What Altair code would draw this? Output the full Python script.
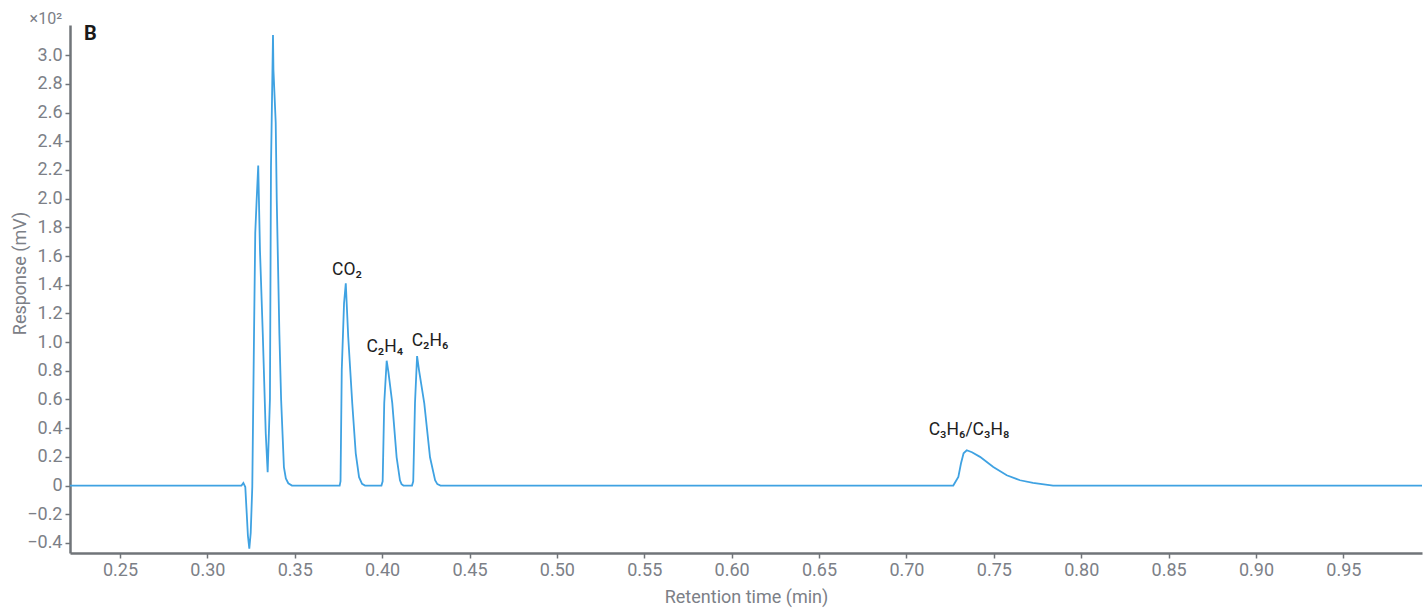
import altair as alt
import pandas as pd

# Chromatogram trace: retention time (min) and detector response (x10^2 mV)
time_min = [
    0.2214, 0.3195, 0.3206, 0.3217, 0.3225, 0.3232, 0.3240, 0.3248, 0.3257,
    0.3267, 0.3274, 0.3282, 0.3291, 0.3301, 0.3317, 0.3334, 0.3345,
    0.3358, 0.3364, 0.33755, 0.3378, 0.3391, 0.3397, 0.3412, 0.3422, 0.3438,
    0.3449, 0.3463, 0.3484,
    0.3757, 0.3762, 0.3769, 0.3782, 0.3792, 0.3806, 0.3829, 0.3849, 0.3868,
    0.3885, 0.3902,
    0.3996, 0.4003, 0.4012, 0.4026, 0.4036, 0.4058, 0.4083, 0.4102, 0.4111,
    0.4122,
    0.4171, 0.4178, 0.4188, 0.4200, 0.4211, 0.4241, 0.4274, 0.4303, 0.4316,
    0.4334,
    0.7268, 0.7297, 0.7312, 0.7327, 0.7345, 0.7375, 0.7421, 0.7497, 0.7574,
    0.7650, 0.7724, 0.7839, 0.995,
]
response = [
    0.0, 0.0, 0.018, -0.01, -0.19, -0.35, -0.44, -0.33, -0.01,
    1.06, 1.76, 1.99, 2.23, 1.64, 1.06, 0.365, 0.093,
    0.60, 2.22, 3.14, 2.90, 2.53, 1.99, 1.06, 0.60, 0.128,
    0.05, 0.016, 0.0,
    0.0, 0.03, 0.805, 1.27, 1.41, 1.035, 0.574, 0.225, 0.058,
    0.012, 0.0,
    0.0, 0.03, 0.574, 0.87, 0.79, 0.574, 0.197, 0.037, 0.01,
    0.0,
    0.0, 0.03, 0.574, 0.902, 0.805, 0.574, 0.197, 0.037, 0.01,
    0.0,
    0.0, 0.06, 0.154, 0.225, 0.246, 0.232, 0.20, 0.13, 0.072,
    0.037, 0.018, 0.0, 0.0,
]

# Peak annotations
peak_names = ["CO₂", "C₂H₄", "C₂H₆", "C₃H₆/C₃H₈"]
peak_label_time = [0.3799, 0.4015, 0.4274, 0.7358]
peak_label_resp = [1.467, 0.932, 0.972, 0.351]

x_ticks = [0.25, 0.30, 0.35, 0.40, 0.45, 0.50, 0.55, 0.60, 0.65, 0.70,
           0.75, 0.80, 0.85, 0.90, 0.95]
y_ticks = [-0.4, -0.2, 0.0, 0.2, 0.4, 0.6, 0.8, 1.0, 1.2, 1.4, 1.6, 1.8,
           2.0, 2.2, 2.4, 2.6, 2.8, 3.0]

trace = pd.DataFrame({"t": time_min, "r": response})
labels = pd.DataFrame({"t": peak_label_time, "r": peak_label_resp, "name": peak_names})

FONT = "Roboto"
AXIS_GRAY = "#707479"
TEXT_GRAY = "#7c8087"

x_scale = alt.Scale(domain=[0.2214, 0.995], nice=False, zero=False)
y_scale = alt.Scale(domain=[-0.47, 3.21], nice=False, zero=False)

x_axis = alt.Axis(
    title="Retention time (min)",
    values=x_ticks,
    format=".2f",
    grid=False,
    labelOverlap=False,
    domainColor=AXIS_GRAY,
    domainWidth=2.5,
    tickColor=AXIS_GRAY,
    tickSize=5,
    tickWidth=1.5,
    labelColor=TEXT_GRAY,
    labelFont=FONT,
    labelFontSize=18,
    labelPadding=3,
    titleColor=TEXT_GRAY,
    titleFont=FONT,
    titleFontSize=18,
    titleFontWeight="normal",
    titlePadding=9,
)
y_axis = alt.Axis(
    title="Response (mV)",
    values=y_ticks,
    labelExpr="datum.value == 0 ? '0' : format(datum.value, '.1f')",
    grid=False,
    labelOverlap=False,
    domainColor=AXIS_GRAY,
    domainWidth=2.5,
    tickColor=AXIS_GRAY,
    tickSize=5,
    tickWidth=1.5,
    labelColor=TEXT_GRAY,
    labelFont=FONT,
    labelFontSize=18,
    labelPadding=3,
    titleColor=TEXT_GRAY,
    titleFont=FONT,
    titleFontSize=18,
    titleFontWeight="normal",
    titleX=-50,
    titleY=248,
    titleBaseline="middle",
    titleAlign="center",
)

line = alt.Chart(trace).mark_line(
    color="#3fa2e2", strokeWidth=1.8, clip=True
).encode(
    x=alt.X("t:Q", scale=x_scale, axis=x_axis),
    y=alt.Y("r:Q", scale=y_scale, axis=y_axis),
)

peak_text = alt.Chart(labels).mark_text(
    font=FONT, fontSize=17.5, color="#1e1e1e", align="center", baseline="alphabetic"
).encode(
    x=alt.X("t:Q", scale=x_scale, axis=x_axis),
    y=alt.Y("r:Q", scale=y_scale, axis=y_axis),
    text="name:N",
)

panel_letter = alt.Chart(pd.DataFrame({"s": ["B"]})).mark_text(
    font=FONT, fontSize=20, fontWeight="bold", color="#1a1a1a",
    align="left", baseline="alphabetic",
).encode(x=alt.value(14), y=alt.value(15), text="s:N")

exponent = alt.Chart(pd.DataFrame({"s": ["×10²"]})).mark_text(
    font=FONT, fontSize=16, color=TEXT_GRAY, align="right", baseline="alphabetic",
).encode(x=alt.value(-8), y=alt.value(-1), text="s:N")

chart = alt.layer(line, peak_text, panel_letter, exponent).properties(
    width=1352,
    height=528,
    background="white",
    autosize=alt.AutoSizeParams(type="none"),
    padding={"left": 70, "top": 25, "right": 2, "bottom": 56},
).configure_view(stroke=None)

chart.save("out.html", embed_options={"renderer": "svg", "actions": False})
